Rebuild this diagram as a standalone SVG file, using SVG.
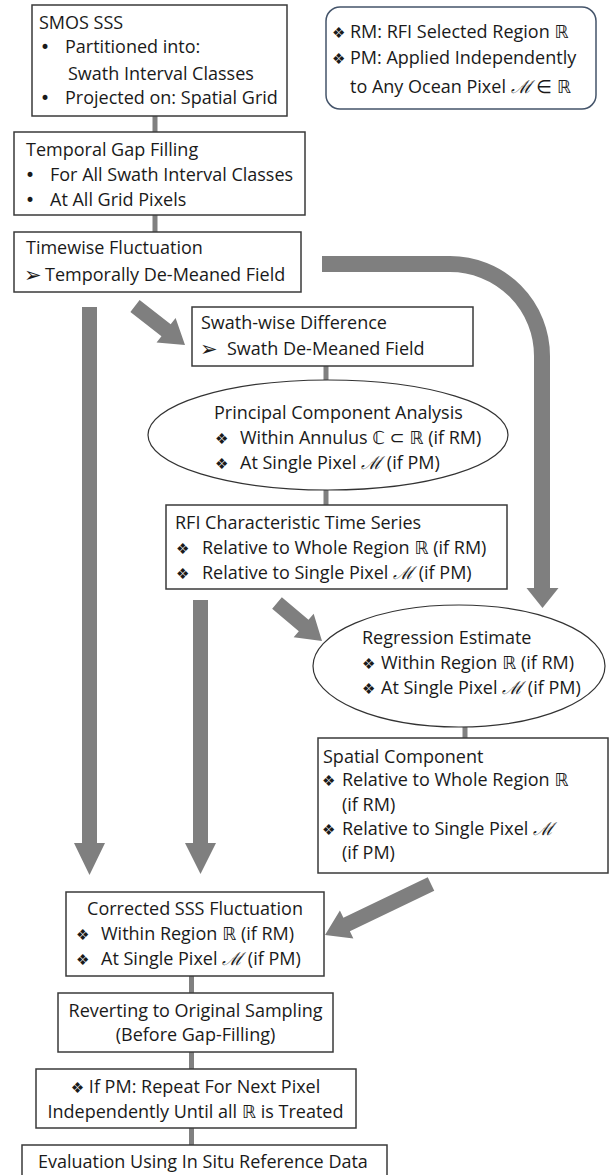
<svg xmlns="http://www.w3.org/2000/svg" width="613" height="1175" viewBox="0 0 613 1175">
<style>
.box{fill:#fff;stroke:#3a3a3a;stroke-width:1.5}
.ell{fill:#fff;stroke:#333;stroke-width:1.2}
.leg{fill:#fff;stroke:#44546a;stroke-width:1.5}
.t{font-family:"Open Sans","DejaVu Sans",sans-serif;font-size:18px;fill:#1a1a1a}
.c{text-anchor:middle}
.b{font-family:"DejaVu Sans",sans-serif;font-size:15px;fill:#1a1a1a}
.d{font-family:"DejaVu Sans",sans-serif;font-size:17px;fill:#1a1a1a}
.ar{font-family:"DejaVu Sans",sans-serif;font-size:21px;fill:#1a1a1a}
.m{font-family:"DejaVu Serif",serif;font-style:italic}
.con{fill:#808080}
.arr{fill:#7f7f7f}
</style>
<rect width="613" height="1175" fill="#fff"/>
<g id="connectors">
<rect class="con" x="152.5" y="116" width="5" height="16"/>
<rect class="con" x="152.5" y="215" width="5" height="17"/>
<rect class="con" x="323.5" y="366" width="5" height="14"/>
<rect class="con" x="323.5" y="490" width="5" height="15"/>
<rect class="con" x="462.5" y="727" width="5" height="11"/>
<rect class="con" x="189" y="976" width="5" height="17"/>
<rect class="con" x="189" y="1052" width="5" height="17"/>
<rect class="con" x="189" y="1128" width="5" height="17"/>
<polygon class="arr" points="82,307 97,307 97,843 105,843 89.5,875 74,843 82,843"/>
<polygon class="arr" points="193,600 208,600 208,843 216,843 200.5,874 185,843 193,843"/>
<path d="M322,264 H450 A92,92 0 0 1 542,356 V589" fill="none" stroke="#7f7f7f" stroke-width="16"/>
<polygon class="arr" points="526.5,588 558.5,588 542.5,608"/>
<polygon class="arr" points="139.61,300.09 170.69,324.33 175.61,318.02 185,345 156.55,342.46 161.47,336.15 130.39,311.91"/>
<polygon class="arr" points="281.84,597.27 308.5,619.79 313.66,613.68 322,641 293.66,637.36 298.82,631.25 272.16,608.73"/>
<polygon class="arr" points="427.75,877.24 343.38,917.83 339.91,910.62 325,935 353.35,938.56 349.88,931.35 434.25,890.76"/>
</g>
<g id="n-smos">
<rect class="box" x="32" y="5" width="255" height="111"/>
<text class="t" x="39" y="29">SMOS SSS</text>
<text class="d" x="40" y="53">•</text><text class="t" x="65" y="53">Partitioned into:</text>
<text class="t" x="68" y="80">Swath Interval Classes</text>
<text class="d" x="40" y="104">•</text><text class="t" x="65" y="104">Projected on: Spatial Grid</text>
</g>
<g id="n-legend">
<rect class="leg" x="326" y="7" width="270" height="102" rx="14"/>
<text class="b" x="332" y="38">❖</text><text class="t" x="350" y="38">RM: RFI Selected Region ℝ</text>
<text class="b" x="332" y="64">❖</text><text class="t" x="350" y="64">PM: Applied Independently</text>
<text class="t" x="350" y="93">to Any Ocean Pixel <tspan class="m">ℳ</tspan> ∈ ℝ</text>
</g>
<g id="n-gap">
<rect class="box" x="14" y="132" width="291" height="83"/>
<text class="t" x="26" y="156">Temporal Gap Filling</text>
<text class="d" x="25" y="181">•</text><text class="t" x="50" y="181">For All Swath Interval Classes</text>
<text class="d" x="25" y="206">•</text><text class="t" x="50" y="206">At All Grid Pixels</text>
</g>
<g id="n-timewise">
<rect class="box" x="14" y="232" width="287" height="60"/>
<text class="t" x="26" y="254">Timewise Fluctuation</text>
<text class="ar" x="24" y="282">➢</text><text class="t" x="45" y="281">Temporally De-Meaned Field</text>
</g>
<g id="n-swath">
<rect class="box" x="192" y="307" width="281" height="59"/>
<text class="t" x="201" y="329">Swath-wise Difference</text>
<text class="ar" x="200" y="356">➢</text><text class="t" x="227" y="355">Swath De-Meaned Field</text>
</g>
<g id="n-pca">
<ellipse class="ell" cx="328" cy="435" rx="180" ry="55"/>
<text class="t" x="214" y="419">Principal Component Analysis</text>
<text class="b" x="215" y="444">❖</text><text class="t" x="240" y="444">Within Annulus ℂ ⊂ ℝ (if RM)</text>
<text class="b" x="215" y="469">❖</text><text class="t" x="240" y="469">At Single Pixel <tspan class="m">ℳ</tspan> (if PM)</text>
</g>
<g id="n-rfi">
<rect class="box" x="166" y="505" width="341" height="84"/>
<text class="t" x="175" y="529">RFI Characteristic Time Series</text>
<text class="b" x="176" y="554">❖</text><text class="t" x="202" y="554">Relative to Whole Region ℝ (if RM)</text>
<text class="b" x="176" y="579">❖</text><text class="t" x="202" y="579">Relative to Single Pixel <tspan class="m">ℳ</tspan> (if PM)</text>
</g>
<g id="n-regression">
<ellipse class="ell" cx="459" cy="666" rx="146" ry="61"/>
<text class="t" x="362" y="644">Regression Estimate</text>
<text class="b" x="362" y="669">❖</text><text class="t" x="381" y="669">Within Region ℝ (if RM)</text>
<text class="b" x="362" y="694">❖</text><text class="t" x="381" y="694">At Single Pixel <tspan class="m">ℳ</tspan> (if PM)</text>
</g>
<g id="n-spatial">
<rect class="box" x="318" y="738" width="290" height="135"/>
<text class="t" x="323" y="763">Spatial Component</text>
<text class="b" x="322" y="786">❖</text><text class="t" x="342" y="786">Relative to Whole Region ℝ</text>
<text class="t" x="342" y="811">(if RM)</text>
<text class="b" x="322" y="835">❖</text><text class="t" x="342" y="835">Relative to Single Pixel <tspan class="m">ℳ</tspan></text>
<text class="t" x="342" y="859">(if PM)</text>
</g>
<g id="n-corrected">
<rect class="box" x="66" y="892" width="258" height="84"/>
<text class="t c" x="195" y="915">Corrected SSS Fluctuation</text>
<text class="b" x="76" y="940">❖</text><text class="t" x="101" y="940">Within Region ℝ (if RM)</text>
<text class="b" x="76" y="965">❖</text><text class="t" x="101" y="965">At Single Pixel <tspan class="m">ℳ</tspan> (if PM)</text>
</g>
<g id="n-revert">
<rect class="box" x="58" y="993" width="275" height="59"/>
<text class="t c" x="195.5" y="1017">Reverting to Original Sampling</text>
<text class="t c" x="195.5" y="1041">(Before Gap-Filling)</text>
</g>
<g id="n-repeat">
<rect class="box" x="36" y="1069" width="320" height="59"/>
<text class="t c" x="195.5" y="1093"><tspan class="b">❖</tspan>  If PM: Repeat For Next Pixel</text>
<text class="t c" x="195.5" y="1118">Independently Until all ℝ is Treated</text>
</g>
<g id="n-eval">
<rect class="box" x="22" y="1145" width="365" height="40"/>
<text class="t" x="38" y="1168">Evaluation Using In Situ Reference Data</text>
</g>
</svg>
